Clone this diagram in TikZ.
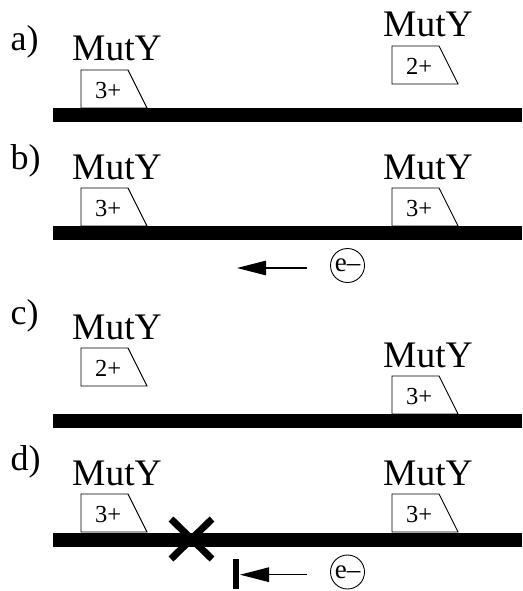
\documentclass[tikz,border=0pt]{standalone}
\usepackage{fontspec}
\setmainfont{Liberation Serif}
\usetikzlibrary{arrows.meta}
\tikzset{
  barbox/.style={fill=black,draw=none,inner sep=0pt,anchor=north west,minimum width=469pt,minimum height=14pt},
  muty/.style={anchor=base west,inner sep=0pt,font=\fontsize{37.5}{37.5}\selectfont},
  panel/.style={anchor=base west,inner sep=0pt,font=\fontsize{36}{36}\selectfont},
  charge/.style={anchor=base west,inner sep=0pt,font=\fontsize{24.5}{24.5}\selectfont},
  trapline/.style={draw=black,line width=0.9pt,line join=miter},
  electron/.style={circle,draw=black,line width=0.9pt,inner sep=0pt,minimum size=34pt,font=\fontsize{27}{27}\selectfont},
  flow/.style={draw=black,line width=1.3pt,-{Triangle[length=29pt,width=14.5pt]}},
}
\newcommand{\mutunit}[4]{% name, x, top y, charge
  \node[muty] (#1m) at (#2-9,#3-9) {MutY};
  \draw[trapline] (#2,#3+38) -- (#2,#3) -- (#2+47,#3) -- (#2+66,#3+38) -- cycle;
  \node[charge] (#1c) at (#2+14,#3+28.5) {#4};
}
\begin{document}
\begin{tikzpicture}[x=1pt,y=-1pt]
\useasboundingbox (0,0) rectangle (522,591);
\fill[white] (0,0) rectangle (522,591);
\node[panel] (la) at (10.5,51) {a)};
\node[panel] (lb) at (10.5,169) {b)};
\node[panel] (lc) at (10.5,324) {c)};
\node[panel] (ld) at (10.5,470) {d)};
\node[barbox] (ba) at (53,108) {};
\node[barbox] (bb) at (53,226) {};
\node[barbox] (bc) at (53,414) {};
\node[barbox] (bd) at (53,532.5) {};
\mutunit{a1}{81}{70}{3+}
\mutunit{a2}{392}{46}{2+}
\mutunit{b1}{81}{188}{3+}
\mutunit{b2}{392}{188}{3+}
\mutunit{c1}{81}{348}{2+}
\mutunit{c2}{392}{376}{3+}
\mutunit{d1}{81}{494}{3+}
\mutunit{d2}{392}{494}{3+}
% e- arrows
\node[electron] (e1) at (347.5,265.5) {e–};
\coordinate (s1) at (307,268);
\coordinate (t1) at (237,268);
\draw[flow] (s1) -- (t1);
\node[electron] (e2) at (347.5,572) {e–};
\coordinate (s2) at (307,574.7);
\coordinate (t2) at (240,574.7);
\draw[flow] (s2) -- (t2);
\draw[line width=6pt] (236,559) -- (236,589);
% cross
\draw[line width=7pt] (171,519) -- (212,559);
\draw[line width=7pt] (212,519) -- (171,559);
\end{tikzpicture}
\end{document}
